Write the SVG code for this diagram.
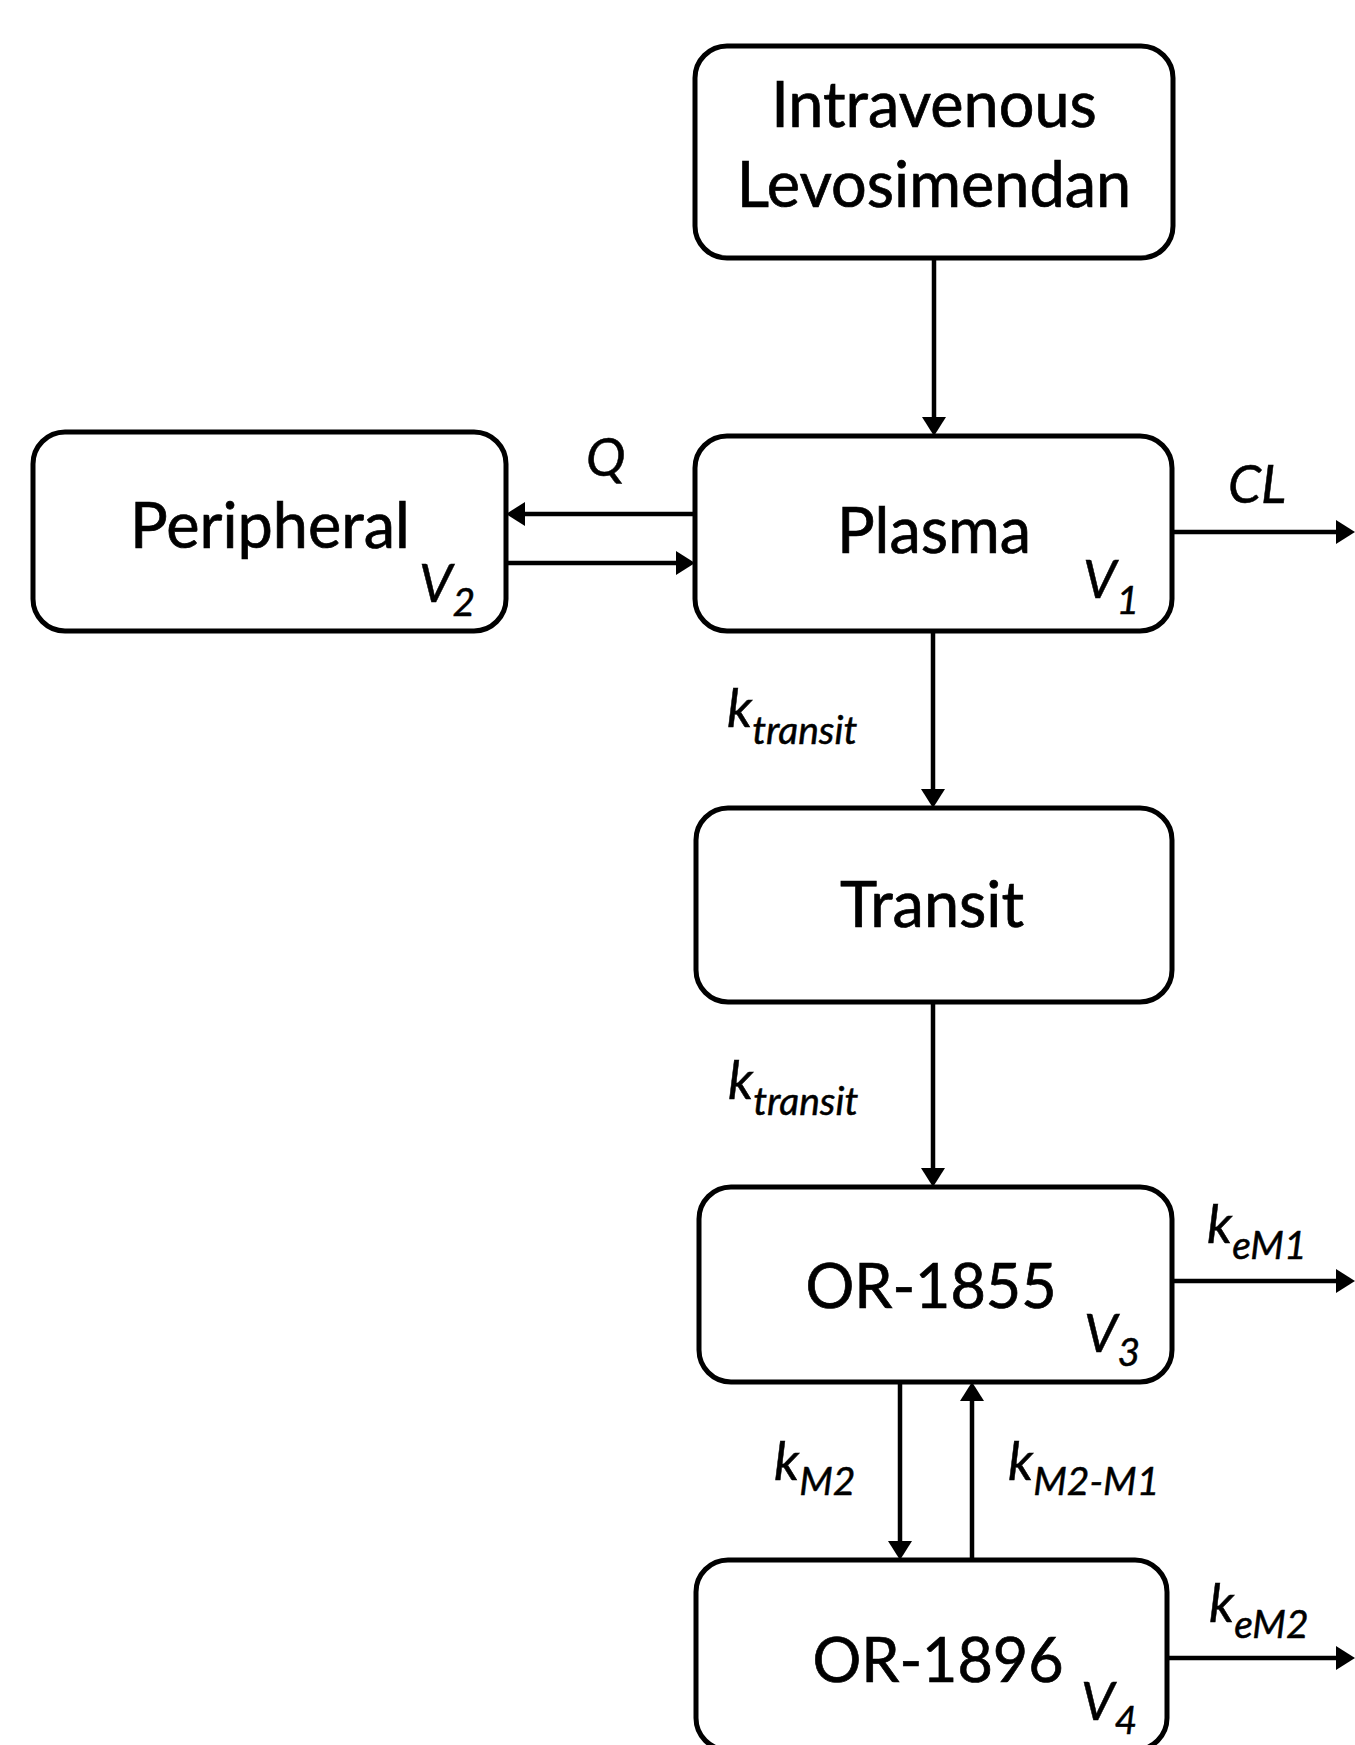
<svg xmlns="http://www.w3.org/2000/svg" width="1355" height="1745" viewBox="0 0 1355 1745">
<style>
.box{fill:#fff;stroke:#000;stroke-width:5}
.main{font-family:Lato,"Open Sans","Liberation Sans",sans-serif;font-size:63px;fill:#000;stroke:#000;stroke-width:0.7;text-anchor:middle}
.num{font-size:61px}
.lab{font-family:Lato,"Open Sans","Liberation Sans",sans-serif;font-size:53px;font-style:italic;fill:#000;stroke:#000;stroke-width:0.5}
.sub{font-size:39px}
.con{stroke:#000;stroke-width:4.5;fill:none;marker-end:url(#ah)}
</style>
<defs>
<marker id="ah" markerUnits="userSpaceOnUse" markerWidth="22" markerHeight="26" refX="8" refY="12" orient="auto">
<path d="M0,0 L19,12 L0,24 z" fill="#000"/>
</marker>
</defs>
<rect width="1355" height="1745" fill="#fff"/>
<g id="connectors">
<line class="con" x1="934" y1="258" x2="934" y2="425"/>
<line class="con" x1="695" y1="514" x2="517" y2="514"/>
<line class="con" x1="506" y1="563" x2="684" y2="563"/>
<line class="con" x1="1172" y1="532" x2="1344" y2="532"/>
<line class="con" x1="933" y1="631" x2="933" y2="797"/>
<line class="con" x1="933" y1="1002" x2="933" y2="1176"/>
<line class="con" x1="1172" y1="1281" x2="1344" y2="1281"/>
<line class="con" x1="900" y1="1382" x2="900" y2="1549"/>
<line class="con" x1="972" y1="1560" x2="972" y2="1393"/>
<line class="con" x1="1167" y1="1658" x2="1344" y2="1658"/>
</g>
<g id="labels">
<text class="lab" x="586" y="476">Q</text>
<text class="lab" x="1228" y="503">CL</text>
<text class="lab" x="727" y="727">k<tspan class="sub" y="744">transit</tspan></text>
<text class="lab" x="728" y="1099">k<tspan class="sub" y="1115">transit</tspan></text>
<text class="lab" x="1207" y="1243">k<tspan class="sub" y="1259">eM1</tspan></text>
<text class="lab" x="774" y="1480">k<tspan class="sub" y="1495">M2</tspan></text>
<text class="lab" x="1008" y="1480">k<tspan class="sub" y="1495">M2-M1</tspan></text>
<text class="lab" x="1209" y="1622">k<tspan class="sub" y="1638">eM2</tspan></text>
</g>
<g id="intravenous">
<rect class="box" x="695" y="46" width="478" height="212" rx="32"/>
<text class="main" x="934" y="127">Intravenous</text>
<text class="main" x="934" y="207">Levosimendan</text>
</g>
<g id="peripheral">
<rect class="box" x="33" y="432" width="473" height="199" rx="32"/>
<text class="main" x="270" y="548">Peripheral</text>
<text class="lab" x="419" y="602">V<tspan class="sub" y="616">2</tspan></text>
</g>
<g id="plasma">
<rect class="box" x="695" y="436" width="477" height="195" rx="32"/>
<text class="main" x="934" y="553">Plasma</text>
<text class="lab" x="1083" y="598">V<tspan class="sub" y="614">1</tspan></text>
</g>
<g id="transit">
<rect class="box" x="696" y="808" width="476" height="194" rx="32"/>
<text class="main" x="932" y="927">Transit</text>
</g>
<g id="or1855">
<rect class="box" x="699" y="1187" width="473" height="195" rx="32"/>
<text class="main num" x="931" y="1308">OR-1855</text>
<text class="lab" x="1084" y="1352">V<tspan class="sub" y="1366">3</tspan></text>
</g>
<g id="or1896">
<rect class="box" x="696" y="1560" width="471" height="190" rx="32"/>
<text class="main num" x="938" y="1682">OR-1896</text>
<text class="lab" x="1081" y="1720">V<tspan class="sub" y="1734">4</tspan></text>
</g>
</svg>
